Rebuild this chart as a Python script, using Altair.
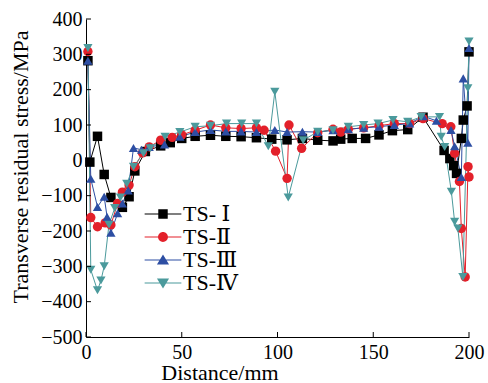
import altair as alt
import pandas as pd

series_names = ["TS- Ⅰ", "TS-Ⅱ", "TS-Ⅲ", "TS-Ⅳ"]
colors = ["#000000", "#e3202a", "#2d4ea3", "#4b9a9c"]

x1 = [1, 2, 6, 9.5, 13, 19, 22.5, 25.5, 31, 39, 44, 50, 57, 65, 73, 81, 89, 97, 105, 113,
      121, 129, 133, 139, 146, 153, 160, 168, 176, 187, 190, 192, 193.5, 196, 197, 199, 200]
y1 = [282, -5, 68, -40, -105, -133, -103, -30, 25, 41, 50, 62, 68, 71, 68, 67, 64, 60, 58, 62,
      57, 55, 60, 62, 62, 72, 84, 87, 122, 28, 5, -15, -37, 62, 114, 154, 307]

x2 = [1, 2.5, 6, 10, 13, 16.5, 19, 22.5, 25.5, 29.5, 33, 39, 45, 50, 57, 65, 73, 81, 89, 93,
      99, 105, 106, 112.6, 121, 129, 133, 137, 145, 153, 161, 169, 176, 186, 190.5, 192.5, 195,
      196, 198, 199.5, 200]
y2 = [308, -162, -188, -177, -183, -122, -90, -70, -18, 21, 38, 57, 65, 72, 85, 100, 92, 90, 92, 85,
      26, -51, 100, 34, 78, 88, 80, 88, 92, 98, 104, 104, 118, 104, 95, 20, -60,
      -193, -330, -18, -47]

x3 = [1, 2.5, 6, 9.5, 11, 13, 16.5, 19, 22, 24.8, 29, 33, 41, 49, 57, 65, 73, 81, 89, 98.6,
      105, 113, 121, 129, 137, 145, 153, 161, 169, 176, 183, 190.6, 192.5, 196, 197, 199.4, 200]
y3 = [282, -52, -132, -103, -160, -205, -150, -122, -85, 35, 30, 38, 45, 67, 80, 86, 82, 82, 80, 86,
      80, 81, 80, 85, 88, 92, 95, 100, 104, 125, 112, 86, 40, -47, 232, 50, 318]

x4 = [1, 2.5, 6, 7.8, 9.5, 12, 15, 18, 21.3, 24.8, 30, 33.5, 41.3, 49, 57, 65, 73.4, 81.3, 89, 95.2,
      98.6, 105.6, 113.4, 121, 129, 137, 145, 152.5, 160.3, 168, 175, 184.6, 185.5, 187.3, 190.8,
      192.5, 194.2, 196.8, 199.4, 200]
y4 = [318, -310, -368, -340, -300, -182, -135, -105, -66, -18, 20, 34, 67, 80, 95, 98, 104, 104, 104, 40,
      194, -105, 57, 81, 85, 95, 100, 104, 114, 109, 123, 123, 67, 38, -89,
      -174, -193, -330, 204, 336]

x_ticks = [0, 50, 100, 150, 200]
y_ticks = [-500, -400, -300, -200, -100, 0, 100, 200, 300, 400]

point_shapes = ["square", "circle", "triangle-up", "triangle-down"]
legend_paths = [
    "M-1.67,-0.05H1.67V0.05H-1.67Z M-0.43,-0.43H0.43V0.43H-0.43Z",
    "M-1.67,-0.05H1.67V0.05H-1.67Z M0.45,0A0.45,0.45,0,1,1,-0.45,0A0.45,0.45,0,1,1,0.45,0Z",
    "M-1.67,-0.05H1.67V0.05H-1.67Z M0,-0.5L0.55,0.42L-0.55,0.42Z",
    "M-1.67,-0.05H1.67V0.05H-1.67Z M0,0.5L-0.55,-0.42L0.55,-0.42Z",
]

rows = []
for name, xs, ys in zip(series_names, [x1, x2, x3, x4], [y1, y2, y3, y4]):
    for i, (a, b) in enumerate(zip(xs, ys)):
        rows.append({"series": name, "x": a, "y": b, "i": i})
df = pd.DataFrame(rows)

W, H = 383, 318
FONT = "'Liberation Serif', 'Times New Roman', Tinos, 'DejaVu Serif', serif"

xscale = alt.Scale(domain=[0, 200], nice=False, zero=False)
yscale = alt.Scale(domain=[-500, 400], nice=False, zero=False)

x_axis = alt.Axis(values=x_ticks, title="Distance/mm", labelFlush=False, labelPadding=5,
                  titleX=133.5, titleY=42, titleBaseline="alphabetic", titleAlign="center")
y_axis = alt.Axis(values=y_ticks, title="Transverse residual stress/MPa", labelPadding=4,
                  titleAngle=270, titleX=-59, titleY=147.5, titleBaseline="alphabetic",
                  titleAlign="center")

X = alt.X("x:Q", scale=xscale, axis=x_axis)
Y = alt.Y("y:Q", scale=yscale, axis=y_axis)

base = alt.Chart(df)

lines = base.mark_line(strokeWidth=1).encode(
    x=X, y=Y,
    color=alt.Color("series:N", scale=alt.Scale(domain=series_names, range=colors), legend=None),
    detail="series:N",
    order=alt.Order("i:Q"),
)

points = base.mark_point(filled=True, opacity=1, strokeWidth=0).encode(
    x=X, y=Y,
    color=alt.Color("series:N", scale=alt.Scale(domain=series_names, range=colors), legend=None),
    shape=alt.Shape("series:N", scale=alt.Scale(domain=series_names, range=point_shapes), legend=None),
    size=alt.Size("series:N", scale=alt.Scale(domain=series_names, range=[90, 85, 140, 140]), legend=None),
)

legend_props = dict(orient="none", legendX=66, legendY=184, title=None, padding=0,
                    labelFont=FONT, labelFontSize=22, labelColor="black", labelOffset=9,
                    symbolSize=484, symbolStrokeWidth=0, symbolOpacity=1, rowPadding=1,
                    labelLimit=200)
leg_df = pd.DataFrame({"series": series_names})
legend_layer = alt.Chart(leg_df).mark_point(filled=True, opacity=0, size=484, clip=True).encode(
    x=alt.value(-300),
    y=alt.value(-300),
    color=alt.Color("series:N", scale=alt.Scale(domain=series_names, range=colors),
                    legend=alt.Legend(**legend_props)),
    shape=alt.Shape("series:N", scale=alt.Scale(domain=series_names, range=legend_paths),
                    legend=alt.Legend(**legend_props)),
)

xt = alt.Chart(pd.DataFrame({"x": x_ticks})).mark_rule(color="black", strokeWidth=1).encode(
    x=X,
    y=alt.value(H),
    y2=alt.value(H - 5),
)
yt = alt.Chart(pd.DataFrame({"y": y_ticks})).mark_rule(color="black", strokeWidth=1).encode(
    y=Y,
    x=alt.value(0),
    x2=alt.value(5),
)

chart = alt.layer(lines, points, legend_layer, xt, yt).resolve_scale(
    color="independent", shape="independent", size="independent"
).properties(
    width=W, height=H,
    autosize=alt.AutoSizeParams(type="none"),
    padding={"left": 86, "top": 19, "right": 19, "bottom": 46},
    background="white",
).configure_view(stroke=None).configure_axis(
    ticks=False, grid=False, labelFont=FONT, labelFontSize=20, labelColor="black",
    titleFont=FONT, titleFontSize=22, titleFontWeight="normal", titleColor="black",
    domainColor="black", domainWidth=1,
)

chart.save("out.html", embed_options={"renderer": "svg", "actions": False})
